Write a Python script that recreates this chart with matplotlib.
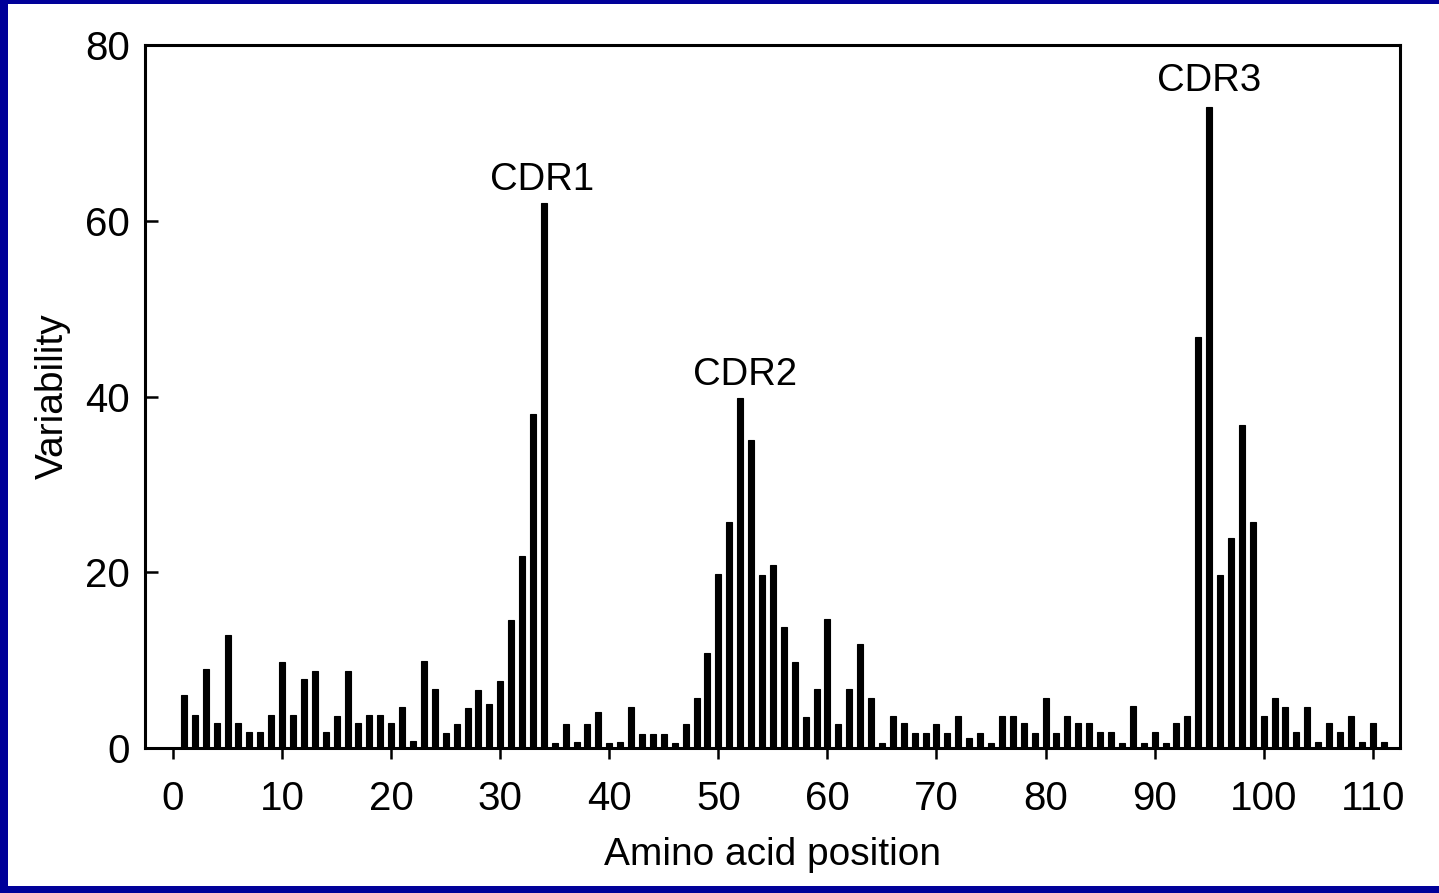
import matplotlib
matplotlib.use('Agg')
import matplotlib.pyplot as plt
from matplotlib.patches import Rectangle

#### DATA ##########

positions = list(range(1, 112))
variability = [
    6.0, 3.8, 9.0, 2.8, 12.9, 2.8, 1.8, 1.8, 3.7, 9.8,      # 1-10
    3.7, 7.8, 8.8, 1.8, 3.6, 8.8, 2.8, 3.7, 3.7, 2.8,       # 11-20
    4.7, 0.8, 9.9, 6.7, 1.7, 2.7, 4.6, 6.6, 5.0, 7.6,       # 21-30
    14.6, 21.8, 38.0, 62.0, 0.6, 2.7, 0.7, 2.7, 4.1, 0.6,   # 31-40
    0.7, 4.7, 1.6, 1.6, 1.6, 0.6, 2.7, 5.7, 10.8, 19.8,     # 41-50
    25.7, 39.8, 35.0, 19.7, 20.8, 13.8, 9.8, 3.5, 6.7, 14.7,  # 51-60
    2.7, 6.7, 11.8, 5.7, 0.6, 3.6, 2.8, 1.7, 1.7, 2.7,      # 61-70
    1.7, 3.6, 1.1, 1.7, 0.6, 3.6, 3.6, 2.8, 1.7, 5.7,       # 71-80
    1.7, 3.6, 2.8, 2.8, 1.8, 1.8, 0.6, 4.8, 0.6, 1.8,       # 81-90
    0.6, 2.8, 3.6, 46.8, 73.0, 19.7, 23.9, 36.8, 25.7, 3.6,  # 91-100
    5.7, 4.7, 1.8, 4.7, 0.7, 2.8, 1.8, 3.6, 0.7, 2.8,       # 101-110
    0.7,                                                     # 111
]

cdr_names = ['CDR1', 'CDR2', 'CDR3']
cdr_x = [33.8, 52.4, 95.0]
cdr_y = [62.6, 40.4, 73.8]

x_ticks = list(range(0, 111, 10))
y_ticks = [0, 20, 40, 60, 80]

##### PLOT ######

plt.rcParams['font.family'] = ['Liberation Sans', 'DejaVu Sans']

fig = plt.figure(figsize=(14.39, 8.93), dpi=100)
fig.patch.set_facecolor('#000099')
# white panel inside the blue border
fig.patches.append(Rectangle((8 / 1439, 7 / 893), 1.5, 882 / 893,
                             transform=fig.transFigure, facecolor='white',
                             edgecolor='none', zorder=-5))

ax = fig.add_axes([145 / 1439, 145 / 893, 1255 / 1439, 703 / 893])
ax.set_facecolor('white')
ax.set_zorder(2)

ax.bar(positions, variability, width=0.55, color='black',
       edgecolor='black', linewidth=0.8, zorder=3)

for name, xx, yy in zip(cdr_names, cdr_x, cdr_y):
    ax.text(xx, yy, name, ha='center', va='bottom', fontsize=27.5)

ax.set_xlim(-2.57, 112.5)
ax.set_ylim(0, 80)
ax.set_xticks(x_ticks)
ax.set_yticks(y_ticks)

for s in ax.spines.values():
    s.set_linewidth(2.2)
    s.set_color('black')

ax.tick_params(axis='x', direction='out', length=8, width=1.8,
               labelsize=29, pad=15)
ax.tick_params(axis='y', direction='in', length=9, width=1.8,
               labelsize=29, pad=11)

ax.set_xlabel('Amino acid position', fontsize=28, labelpad=14)
ax.set_ylabel('Variability', fontsize=28, labelpad=10)

plt.savefig('out.png', dpi=100, facecolor=fig.get_facecolor())
